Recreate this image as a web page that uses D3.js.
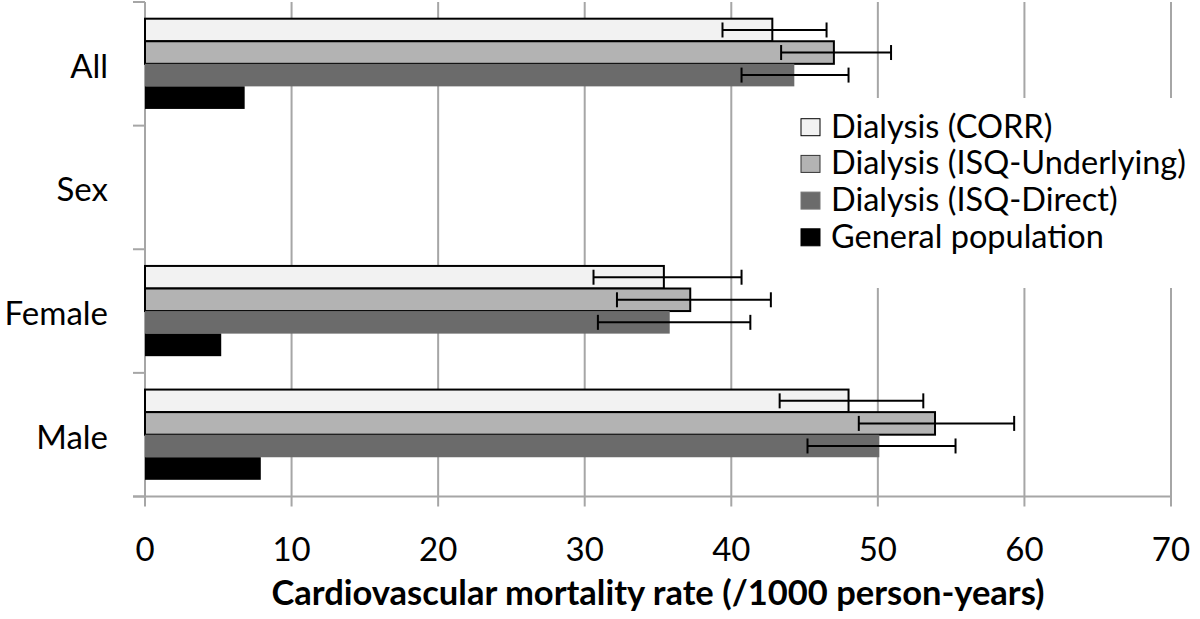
<!DOCTYPE html>
<html><head><meta charset="utf-8">
<script src="https://cdn.jsdelivr.net/npm/d3@7"></script>
<style>html,body{margin:0;padding:0;background:#fff;}svg{display:block;}</style>
</head><body>
<svg id="c" width="1200" height="619"></svg>
<script>
const categories = ["All", "Sex", "Female", "Male"];
const seriesNames = ["Dialysis (CORR)", "Dialysis (ISQ-Underlying)", "Dialysis (ISQ-Direct)", "General population"];
const corrVals  = [42.8, null, 35.4, 48.0];
const corrLo    = [39.4, null, 30.6, 43.3];
const corrHi    = [46.5, null, 40.7, 53.1];
const isqUVals  = [47.0, null, 37.2, 53.9];
const isqULo    = [43.4, null, 32.2, 48.7];
const isqUHi    = [50.9, null, 42.7, 59.3];
const isqDVals  = [44.3, null, 35.8, 50.1];
const isqDLo    = [40.7, null, 30.9, 45.2];
const isqDHi    = [48.0, null, 41.3, 55.3];
const genVals   = [6.8, null, 5.2, 7.9];
const xTicks    = [0, 10, 20, 30, 40, 50, 60, 70];
const xTitle    = "Cardiovascular mortality rate (/1000 person-years)";

const fills   = ["#f2f2f2", "#b3b3b3", "#6b6b6b", "#000000"];
const strokes = ["#000", "#000", "none", "none"];
const FONT = "Lato, 'Open Sans', sans-serif";

const seriesData = [
  {vals: corrVals, lo: corrLo, hi: corrHi},
  {vals: isqUVals, lo: isqULo, hi: isqUHi},
  {vals: isqDVals, lo: isqDLo, hi: isqDHi},
  {vals: genVals, lo: null, hi: null}
];

const svg = d3.select("#c");
const x = d3.scaleLinear().domain([0, 70]).range([145, 1171]);
const y = d3.scaleBand().domain(categories).range([2, 496.5]).paddingInner(0).paddingOuter(0);
const y1 = d3.scaleBand().domain(seriesNames).range([0, y.bandwidth()]).paddingInner(0).paddingOuter(0.74);
const yTop = y.range()[0], yBot = y.range()[1];
const gridColor = "#a6a6a6";

// gridlines
svg.append("g").selectAll("line").data(xTicks).join("line")
  .attr("x1", d => x(d)).attr("x2", d => x(d))
  .attr("y1", yTop).attr("y2", yBot + 10)
  .attr("stroke", gridColor).attr("stroke-width", 2);

// bottom axis line
svg.append("line").attr("x1", x(0) - 12).attr("x2", x(70) + 1)
  .attr("y1", yBot).attr("y2", yBot).attr("stroke", gridColor).attr("stroke-width", 2);

// left category ticks (between categories)
const catEdges = categories.map(c => y(c)).concat([yBot]);
svg.append("g").selectAll("line").data(catEdges).join("line")
  .attr("x1", x(0) - 12).attr("x2", x(0))
  .attr("y1", d => d).attr("y2", d => d)
  .attr("stroke", gridColor).attr("stroke-width", 2);

// bars
const gBars = svg.append("g");
seriesData.forEach((s, si) => {
  const rows = categories.map((c, i) => ({c, v: s.vals[i]})).filter(d => d.v != null);
  gBars.append("g").selectAll("rect").data(rows).join("rect")
    .attr("x", x(0))
    .attr("y", d => y(d.c) + y1(seriesNames[si]))
    .attr("width", d => x(d.v) - x(0))
    .attr("height", y1.bandwidth())
    .attr("fill", fills[si])
    .attr("stroke", strokes[si])
    .attr("stroke-width", 2);
});
// error bars
seriesData.forEach((s, si) => {
  if (!s.lo) return;
  const rows = categories.map((c, i) => ({c, lo: s.lo[i], hi: s.hi[i]})).filter(d => d.lo != null);
  const g = svg.append("g").attr("stroke", "#000").attr("stroke-width", 2);
  rows.forEach(d => {
    const cy = y(d.c) + y1(seriesNames[si]) + y1.bandwidth() / 2;
    g.append("line").attr("x1", x(d.lo)).attr("x2", x(d.hi)).attr("y1", cy).attr("y2", cy);
    g.append("line").attr("x1", x(d.lo)).attr("x2", x(d.lo)).attr("y1", cy - 7.5).attr("y2", cy + 7.5);
    g.append("line").attr("x1", x(d.hi)).attr("x2", x(d.hi)).attr("y1", cy - 7.5).attr("y2", cy + 7.5);
  });
});

// category labels
svg.append("g").selectAll("text").data(categories).join("text")
  .attr("x", 108).attr("y", d => y(d) + y.bandwidth() / 2)
  .attr("dy", "0.42em")
  .attr("text-anchor", "end")
  .attr("font-family", FONT).attr("font-size", 33).attr("fill", "#000")
  .text(d => d);

// x tick labels
svg.append("g").selectAll("text").data(xTicks).join("text")
  .attr("x", d => x(d)).attr("y", 561)
  .attr("text-anchor", "middle")
  .attr("font-family", FONT).attr("font-size", 33).attr("fill", "#000")
  .text(d => d);

// x title
svg.append("text").attr("x", (x(0) + x(70)) / 2).attr("y", 605)
  .attr("text-anchor", "middle")
  .attr("font-family", FONT).attr("font-size", 34.5).attr("font-weight", "bold").attr("fill", "#000")
  .text(xTitle);

// legend
const lg = svg.append("g");
lg.append("rect").attr("x", 790).attr("y", 98).attr("width", 410).attr("height", 190).attr("fill", "#fff");
const legStroke = ["#000", "#333", "#777", "#000"];
seriesNames.forEach((n, i) => {
  const by = 137.7 + i * 36.7;
  lg.append("rect").attr("x", 801).attr("y", by - 19).attr("width", 19).attr("height", 17)
    .attr("fill", fills[i]).attr("stroke", legStroke[i]).attr("stroke-width", 1);
  lg.append("text").attr("x", 831).attr("y", by)
    .attr("font-family", FONT).attr("font-size", 32.5).attr("fill", "#000").text(n);
});
</script>
</body></html>
